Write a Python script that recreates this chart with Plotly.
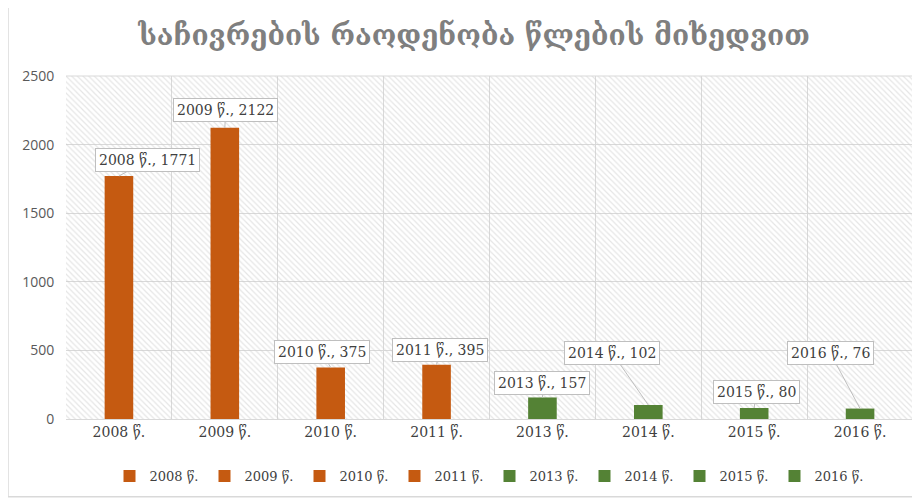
import plotly.graph_objects as go

categories = ["2008 წ.", "2009 წ.", "2010 წ.", "2011 წ.", "2013 წ.", "2014 წ.", "2015 წ.", "2016 წ."]
values = [1771, 2122, 375, 395, 157, 102, 80, 76]
colors = ["#C55A11", "#C55A11", "#C55A11", "#C55A11", "#548235", "#548235", "#548235", "#548235"]
label_ax = [29, 1, -9, 3, 0, -36, 2, -30]
label_ay = [-16, -18, -16, -15, -14, -52, -16, -56]
title_text = "საჩივრების რაოდენობა წლების მიხედვით"
y_max = 2500

SERIF = "DejaVu Serif"
SANS = "Open Sans"

fig = go.Figure()

# hatched plot background
fig.add_trace(go.Bar(
    x=categories, y=[y_max] * len(categories), width=1,
    marker=dict(color="rgba(0,0,0,0)", line=dict(width=0),
                pattern=dict(shape="\\", fgcolor="#cccccc", bgcolor="rgba(0,0,0,0)", size=4, solidity=0.3)),
    showlegend=False, hoverinfo="skip",
))

for c, v, col in zip(categories, values, colors):
    fig.add_trace(go.Bar(x=[c], y=[v], name=c, width=0.27, marker=dict(color=col, line=dict(width=0))))

for c, v, ax, ay in zip(categories, values, label_ax, label_ay):
    fig.add_annotation(
        x=c, y=v, text=f"{c}, {v}", showarrow=True, ax=ax, ay=ay,
        arrowhead=0, arrowwidth=1, arrowcolor="#bfbfbf",
        bgcolor="white", bordercolor="#bfbfbf", borderwidth=1, borderpad=3,
        font=dict(family=SERIF, size=14, color="#404040"),
    )

fig.update_layout(
    width=912, height=490,
    margin=dict(l=58, r=7, t=68, b=79, autoexpand=False),
    paper_bgcolor="white", plot_bgcolor="white",
    barmode="overlay",
    title=dict(text=f"<b>{title_text}</b>", x=0.511, xref="container", xanchor="center",
               y=0.945, yref="container", yanchor="middle",
               font=dict(family=SERIF, size=28, color="#7f7f7f")),
    xaxis=dict(type="category", tickson="boundaries", showgrid=True, gridcolor="#d9d9d9", gridwidth=1,
               ticks="", showline=True, linecolor="#d9d9d9",
               tickfont=dict(family=SERIF, size=14, color="#404040"), range=[-0.5, 7.5]),
    yaxis=dict(range=[0, y_max], dtick=500, showgrid=True, gridcolor="#d9d9d9", gridwidth=1,
               zeroline=False, showline=False, ticks="outside", ticklen=8, tickcolor="rgba(0,0,0,0)",
               tickfont=dict(family=SANS, size=14, color="#595959")),
    legend=dict(orientation="h", x=0.5, xanchor="center", y=-0.166, yanchor="middle",
                font=dict(family=SERIF, size=13, color="#404040"),
                entrywidth=50, entrywidthmode="pixels",
                traceorder="normal"),
    showlegend=True,
)

fig.add_shape(type="rect", xref="paper", yref="paper", x0=-0.0685, x1=1.2, y0=-0.227, y1=1.3,
              line=dict(color="#d9d9d9", width=1.5), layer="below")
fig.add_shape(type="line", xref="paper", yref="paper", x0=1, x1=1, y0=0, y1=1,
              line=dict(color="#d9d9d9", width=1))
fig.add_shape(type="line", xref="paper", yref="paper", x0=0, x1=1, y0=1, y1=1,
              line=dict(color="#d9d9d9", width=1))

fig.write_html("out.html")
